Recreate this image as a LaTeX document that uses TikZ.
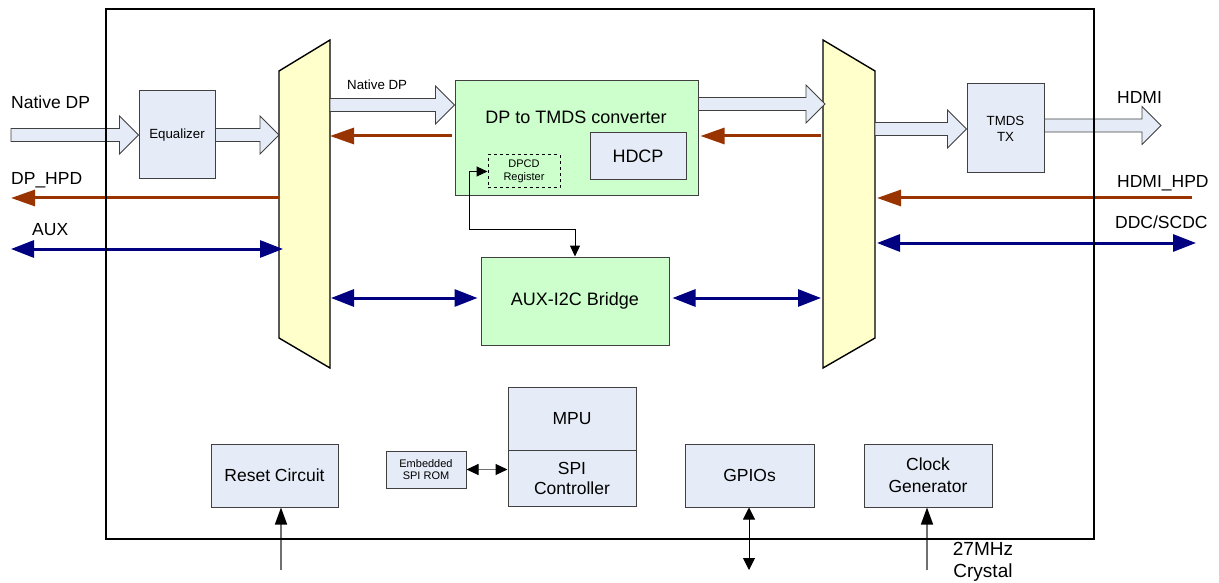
\documentclass[tikz,border=0pt]{standalone}
\usepackage{fontspec}
\setmainfont{Liberation Sans}
\usetikzlibrary{arrows.meta,calc}
\definecolor{boxblue}{HTML}{E6ECF7}
\definecolor{boxgreen}{HTML}{CCFFCC}
\definecolor{muxyellow}{HTML}{FFFFCC}
\definecolor{hpdred}{HTML}{993300}
\definecolor{auxblue}{HTML}{000080}
\definecolor{edgegrey}{HTML}{404040}
\definecolor{wiregrey}{HTML}{707070}
\newcommand\fatarrow[2]{%
  \draw[fatarrow] let \p1=(#1), \p2=(#2) in
    (\x1,\y2+6.5pt) -- (\x2-19pt,\y2+6.5pt) -- (\x2-19pt,\y2+19pt) -- (\x2,\y2)
    -- (\x2-19pt,\y2-19pt) -- (\x2-19pt,\y2-6.5pt) -- (\x1,\y2-6.5pt) -- cycle;}
\begin{document}
\begin{tikzpicture}[x=1pt,y=-1pt,
  blk/.style={draw=edgegrey, line width=1pt, fill=boxblue, inner sep=0pt, align=center},
  grn/.style={blk, fill=boxgreen},
  big/.style={font=\fontsize{17.5}{20}\selectfont},
  mid/.style={font=\fontsize{13.3}{16}\selectfont},
  tiny/.style={font=\fontsize{11}{13}\selectfont},
  fatarrow/.style={draw=edgegrey, fill=boxblue, line width=0.8pt},
  mux/.style={draw=black, fill=muxyellow, line width=1.4pt},
  hpd/.style={draw=hpdred, line width=3pt, -{Triangle[length=24pt,width=16pt]}},
  auxl/.style={draw=auxblue, line width=3pt, {Triangle[length=23pt,width=17pt]}-{Triangle[length=23pt,width=17pt]}},
  thinbi/.style={draw=black, line width=1pt, {Triangle[length=11pt,width=10pt]}-{Triangle[length=11pt,width=10pt]}},
  greyin/.style={draw=wiregrey, line width=1.5pt, -{Triangle[length=17pt,width=12pt,color=black]}},
  lbl/.style={big, inner sep=0pt, anchor=base west}
]
\useasboundingbox (0,0) rectangle (1219,583);

% multiplexers
\draw[mux] (279,71) -- (330,40) -- (330,368) -- (279,338) -- cycle;
\draw[mux] (823,40) -- (875,71) -- (875,338) -- (823,368) -- cycle;

% boxes
\node[blk, mid, minimum width=76pt, minimum height=88pt] (eq) at (177,135) {Equalizer};
\node[grn, minimum width=243pt, minimum height=115pt] (conv) at (576.5,138.5) {};
\node[big, font=\fontsize{18}{21}\selectfont, inner sep=0pt] (convlbl) at (576,117) {DP to TMDS converter};
\node[blk, font=\fontsize{18}{21}\selectfont, minimum width=96pt, minimum height=47pt] (hdcp) at (638,156.5) {HDCP};
\node[grn, tiny, dashed, draw=black, minimum width=72pt, minimum height=33pt] (dpcd) at (524,171.5) {DPCD\\Register};
\node[blk, mid, minimum width=77pt, minimum height=89pt] (tx) at (1005.5,128.5) {TMDS\\TX};
\node[grn, font=\fontsize{18}{21}\selectfont, minimum width=188pt, minimum height=88pt] (bridge) at (575,301) {AUX-I2C Bridge};
\node[blk, big, minimum width=128pt, minimum height=63pt] (mpu) at (572,418.5) {MPU};
\node[blk, big, minimum width=128pt, minimum height=56pt] (spi) at (572,478) {SPI\\Controller};
\node[blk, tiny, font=\fontsize{11}{12.5}\selectfont, minimum width=80pt, minimum height=37pt] (rom) at (426,469.5) {Embedded\\SPI ROM};
\node[blk, big, minimum width=127pt, minimum height=63pt] (reset) at (274.5,475.5) {Reset Circuit};
\node[blk, big, minimum width=129pt, minimum height=63pt] (gpio) at (749.5,475.5) {GPIOs};
\node[blk, big, font=\fontsize{17.5}{22}\selectfont, minimum width=128pt, minimum height=63pt] (clk) at (928,475.5) {Clock\\Generator};

% coordinates on the multiplexers and the outside
\coordinate (dpin) at (11,135);
\coordinate (muxLin) at (279,135);
\coordinate (muxLout) at (330,105);
\coordinate (muxRin) at (825,104);
\coordinate (muxRout) at (875,129);
\coordinate (hdmiout) at (1161,125.5);
\coordinate (muxLhpd) at (279,198);
\coordinate (dphpd) at (11,198);
\coordinate (auxout) at (11,249);
\coordinate (muxLaux) at (283,249);
\coordinate (muxLred) at (330,136);
\coordinate (muxRred) at (821,136);
\coordinate (hdmihpd) at (1192,198);
\coordinate (muxRhpd) at (877,198);
\coordinate (ddcout) at (1196,243);
\coordinate (muxRddc) at (877,243);
\coordinate (muxLbr) at (331,298);
\coordinate (muxRbr) at (821,298);
\coordinate (rstin) at (281,570);
\coordinate (gpioout) at (749,570);
\coordinate (xtal) at (927,570);
\coordinate (bend) at (469,229);

% fat data arrows
\fatarrow{dpin}{eq.west}
\fatarrow{eq.east}{muxLin}
\fatarrow{muxLout}{conv.west |- muxLout}
\fatarrow{conv.east |- muxRin}{muxRin}
\fatarrow{muxRout}{tx.west |- muxRout}
\fatarrow{tx.east |- hdmiout}{hdmiout}

% hot plug lines
\draw[hpd] (muxLhpd) -- (dphpd);
\draw[hpd] ([xshift=-3pt]conv.west |- muxLred) -- (muxLred);
\draw[hpd] (muxRred) -- ([xshift=2pt]conv.east |- muxRred);
\draw[hpd] (hdmihpd) -- (muxRhpd);

% aux / ddc lines
\draw[auxl] (auxout) -- (muxLaux);
\draw[auxl] (muxRddc) -- (ddcout);
\draw[auxl] (muxLbr) -- ([xshift=-3pt]bridge.west |- muxLbr);
\draw[auxl] ([xshift=3pt]bridge.east |- muxRbr) -- (muxRbr);

% thin connectors
\draw[thinbi] (dpcd.west) -| (bend) -| (bridge.north);
\draw[thinbi, draw=wiregrey, {Triangle[length=12pt,width=11pt,color=black]}-{Triangle[length=12pt,width=11pt,color=black]}] (rom.east) -- (rom.east -| spi.west);
\draw[greyin] (rstin) -- (rstin |- reset.south);
\draw[thinbi, {Triangle[length=12pt,width=12pt]}-{Triangle[length=12pt,width=12pt]}] (gpioout |- gpio.south) -- (gpioout);
\draw[greyin] (xtal) -- (xtal |- clk.south);

% outer frame
\draw[line width=1.3pt] (106,9) rectangle (1094,539);

% labels
\node[lbl] (l1) at (11,109) {Native DP};
\node[lbl] (l2) at (11,185) {DP\_HPD};
\node[lbl] (l3) at (32,235) {AUX};
\node[lbl, mid] (l4) at (347,90) {Native DP};
\node[lbl] (l5) at (1117,104) {HDMI};
\node[lbl] (l6) at (1117,188) {HDMI\_HPD};
\node[lbl] (l7) at (1115,228) {DDC/SCDC};
\node[align=center, inner sep=0pt, font=\fontsize{19}{22}\selectfont] (l8) at (983,562) {27MHz\\Crystal};
\end{tikzpicture}
\end{document}
